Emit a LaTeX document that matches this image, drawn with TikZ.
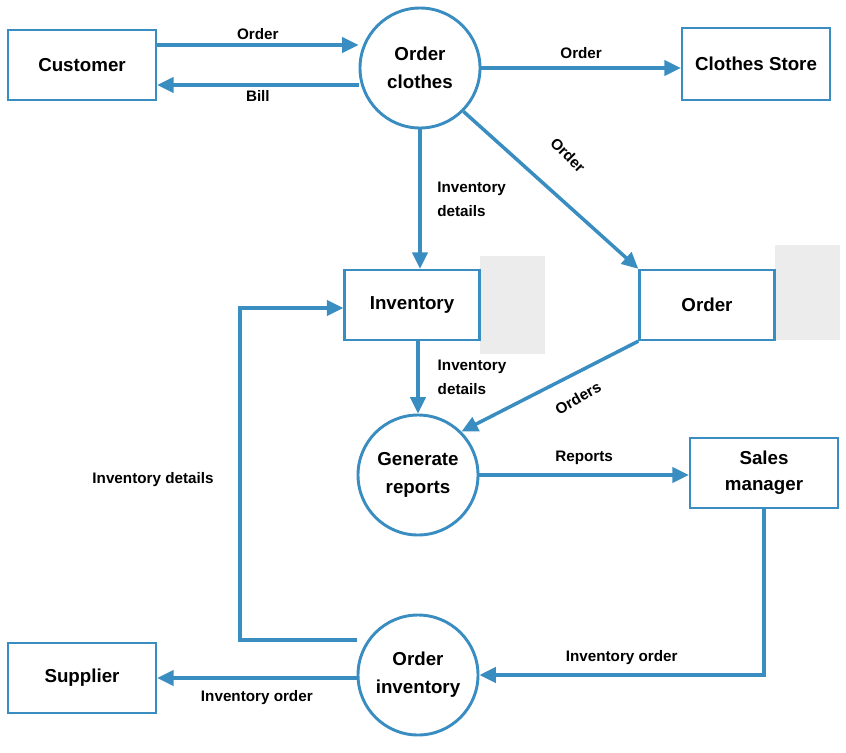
\documentclass[tikz,border=0pt]{standalone}
\usepackage{fontspec}
\setmainfont{Liberation Sans}
\usetikzlibrary{arrows.meta}
\definecolor{bl}{HTML}{3A8DC0}
\begin{document}
\begin{tikzpicture}[x=0.03cm,y=-0.03cm,
  box/.style={draw=bl,line width=2pt,fill=white,inner sep=0pt,font=\fontsize{16}{22}\selectfont\bfseries,align=center},
  proc/.style={circle,draw=bl,line width=2.5pt,fill=white,minimum size=3.6cm,inner sep=0pt,font=\fontsize{16}{24}\selectfont\bfseries,align=center},
  ar/.style={draw=bl,line width=3pt,-{Triangle[length=14pt,width=13pt]}},
  lab/.style={font=\fontsize{13}{21}\selectfont\bfseries,align=left}]
\useasboundingbox (0,0) rectangle (846,752);
\fill[gray!15] (480,256) rectangle (545,354);
\fill[gray!15] (775,245) rectangle (840,340);
\node[box,minimum width=148*0.03cm,minimum height=70*0.03cm] (cust) at (82,65) {Customer};
\node[box,minimum width=148*0.03cm,minimum height=72*0.03cm] (store) at (756,64) {Clothes Store};
\node[box,minimum width=135*0.03cm,minimum height=70*0.03cm] (inv) at (412,305) {Inventory};
\node[box,minimum width=135*0.03cm,minimum height=70*0.03cm] (ord) at (707,305) {Order};
\node[box,minimum width=148*0.03cm,minimum height=70*0.03cm] (sales) at (764,473) {Sales\\manager};
\node[box,minimum width=148*0.03cm,minimum height=70*0.03cm] (sup) at (82,678) {Supplier};
\node[proc] (oc) at (420,68) {Order\\clothes};
\node[proc] (gr) at (418,475) {Generate\\reports};
\node[proc] (oi) at (418,675) {Order\\inventory};
\coordinate (c1) at (240,640);
\coordinate (c2) at (240,308);
\draw[ar] (cust.east |- 0,45) -- (oc.west |- 0,45) node[midway,above,lab] {Order};
\draw[ar] (oc.west |- 0,85) -- (cust.east |- 0,85) node[midway,below,lab] {Bill};
\draw[ar] (oc.east |- 0,68) -- (store.west |- 0,68) node[midway,above=3pt,lab] {Order};
\draw[ar] (oc.-45) -- (ord.north west);
\node[lab,rotate=-45] at (568,155) {Order};
\draw[ar] (oc.south) -- (inv.north -| oc) node[midway,right=10pt,lab] {Inventory\\details};
\draw[ar] (gr.north |- inv.south) -- (gr.north) node[midway,right=12pt,lab] {Inventory\\details};
\draw[ar] (ord.south west) -- (gr.north east);
\node[lab,rotate=30] at (578,398) {Orders};
\draw[ar] (gr.east) -- (sales.west |- gr.east) node[midway,above=4pt,lab] {Reports};
\draw[ar] (sales.south) |- (oi.east) node[pos=0.75,above=4pt,lab] {Inventory order};
\draw[ar] (oi.west |- 0,678) -- (sup.east |- 0,678) node[midway,below=6pt,lab] {Inventory order};
\draw[ar] (oi.west |- c1) -- (c1) -- (c2) -- (inv.west |- c2);
\node[lab] at (153,480) {Inventory details};
\end{tikzpicture}
\end{document}
